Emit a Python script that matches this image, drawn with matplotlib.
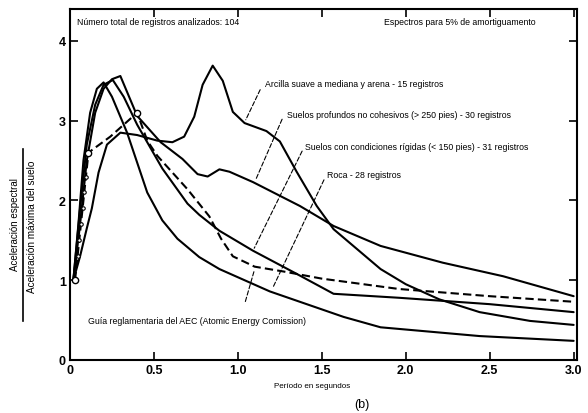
import numpy as np
import matplotlib.pyplot as plt

plt.rcParams['font.family'] = ['Liberation Sans', 'DejaVu Sans']

# Periodo (s) y aceleracion espectral normalizada
t_roca = [0.02, 0.05, 0.08, 0.12, 0.16, 0.20, 0.25, 0.34, 0.46, 0.55, 0.64, 0.77, 0.89, 1.19, 1.63, 1.85, 2.44, 3.0]
a_roca = [1.0, 1.7, 2.5, 3.1, 3.4, 3.48, 3.3, 2.85, 2.1, 1.75, 1.52, 1.29, 1.14, 0.86, 0.54, 0.41, 0.30, 0.24]

t_rigidos = [0.02, 0.06, 0.10, 0.15, 0.20, 0.255, 0.32, 0.40, 0.55, 0.70, 0.77, 0.89, 1.09, 1.35, 1.57, 1.96, 2.5, 3.0]
a_rigidos = [1.0, 1.9, 2.7, 3.2, 3.45, 3.51, 3.3, 2.95, 2.4, 1.96, 1.82, 1.62, 1.37, 1.08, 0.83, 0.78, 0.70, 0.60]

t_profundos = [0.02, 0.06, 0.10, 0.15, 0.20, 0.25, 0.30, 0.40, 0.54, 0.67, 0.76, 0.82, 0.89, 0.95, 1.09, 1.37,
               1.57, 1.85, 2.22, 2.58, 3.0]
a_profundos = [1.0, 1.7, 2.5, 3.1, 3.4, 3.52, 3.56, 3.06, 2.73, 2.52, 2.33, 2.30, 2.39, 2.36, 2.23, 1.93,
               1.68, 1.43, 1.22, 1.05, 0.80]

t_arcilla = [0.02, 0.06, 0.10, 0.13, 0.17, 0.22, 0.30, 0.40, 0.52, 0.61, 0.68, 0.74, 0.79, 0.85, 0.91, 0.97, 1.04,
             1.17, 1.25, 1.35, 1.47, 1.57, 1.71, 1.85, 2.0, 2.2, 2.44, 2.74, 3.0]
a_arcilla = [1.0, 1.3, 1.65, 1.9, 2.35, 2.7, 2.85, 2.82, 2.75, 2.73, 2.8, 3.05, 3.45, 3.69, 3.5, 3.11, 2.97,
             2.87, 2.74, 2.36, 1.93, 1.64, 1.39, 1.14, 0.95, 0.76, 0.60, 0.49, 0.44]

t_aec = [0.03, 0.11, 0.24, 0.40, 0.46, 0.52, 0.70, 0.83, 0.90, 0.97, 1.10, 1.27, 1.50, 1.96, 2.5, 3.0]
a_aec = [1.0, 2.6, 2.8, 3.1, 2.75, 2.56, 2.14, 1.80, 1.52, 1.30, 1.17, 1.11, 1.02, 0.89, 0.80, 0.73]
t_aec_pts = [0.03, 0.11, 0.40]
a_aec_pts = [1.0, 2.6, 3.1]
t_aec_small = [0.045, 0.055, 0.065, 0.075, 0.085, 0.095]
a_aec_small = [1.3, 1.5, 1.7, 1.9, 2.1, 2.3]

xticks = [0, 0.5, 1.0, 1.5, 2.0, 2.5, 3.0]
xticklabels = ['0', '0.5', '1.0', '1.5', '2.0', '2.5', '3.0']
yticks = [0, 1, 2, 3, 4]

fig = plt.figure(figsize=(5.88, 4.14), dpi=100)
ax = fig.add_axes([70 / 588, 53 / 414, 507 / 588, 351 / 414])

lw = 1.5
for t, a in [(t_roca, a_roca), (t_rigidos, a_rigidos), (t_profundos, a_profundos), (t_arcilla, a_arcilla)]:
    ax.plot(t, a, color='black', lw=lw, solid_joinstyle='round', solid_capstyle='round')
ax.plot(t_aec, a_aec, color='black', lw=lw, ls=(0, (4, 2)))
ax.plot(t_aec_small, a_aec_small, 'o', ms=2.5, mfc='white', mec='black', mew=0.8)
ax.plot(t_aec_pts, a_aec_pts, 'o', ms=4.5, mfc='white', mec='black', mew=1.0)

ax.set_xlim(0, 3.02)
ax.set_ylim(0, 4.4)
ax.set_xticks(xticks)
ax.set_xticklabels(xticklabels, fontsize=9, fontweight='bold')
ax.set_yticks(yticks)
ax.set_yticklabels([str(v) for v in yticks], fontsize=9, fontweight='bold')
ax.tick_params(direction='in', length=6, width=1.2, top=True, right=True, pad=3)
for s in ax.spines.values():
    s.set_linewidth(1.5)

fs = 6.3
ax.text(0.04, 4.3, 'Número total de registros analizados: 104', fontsize=fs, va='top')
ax.text(1.87, 4.3, 'Espectros para 5% de amortiguamento', fontsize=fs, va='top')

leader = dict(arrowstyle='-', color='black', lw=0.8, ls=(0, (4, 2)))
labels = [
    ('Arcilla suave a mediana y arena - 15 registros', (1.16, 3.47), (1.14, 3.42), (1.04, 2.98)),
    ('Suelos profundos no cohesivos (> 250 pies) - 30 registros', (1.29, 3.08), (1.27, 3.05), (1.10, 2.23)),
    ('Suelos con condiciones rígidas (< 150 pies) - 31 registros', (1.40, 2.68), (1.39, 2.65), (1.09, 1.37)),
    ('Roca - 28 registros', (1.53, 2.33), (1.52, 2.29), (1.20, 0.87)),
]
for txt, pos, start, end in labels:
    ax.text(pos[0], pos[1], txt, fontsize=fs, va='center')
    ax.annotate('', xy=end, xytext=start, arrowprops=leader)

ax.text(0.11, 0.49, 'Guía reglamentaria del AEC (Atomic Energy Comission)', fontsize=fs, va='center')
ax.annotate('', xy=(1.10, 1.14), xytext=(1.04, 0.70), arrowprops=leader)

fig.text(312 / 588, 1 - 387 / 414, 'Período en segundos', fontsize=5.8, ha='center', va='center')
fig.text(362 / 588, 1 - 405 / 414, '(b)', fontsize=9, ha='center', va='center')

# etiqueta del eje y como fraccion
fig.text(15 / 588, 1 - 225 / 414, 'Aceleración espectral', rotation=90, fontsize=7, ha='center', va='center')
fig.text(32 / 588, 1 - 227 / 414, 'Aceleración máxima del suelo', rotation=90, fontsize=7.2, ha='center', va='center')
fig.add_artist(plt.Line2D([23 / 588, 23 / 588], [1 - 322 / 414, 1 - 150 / 414], color='black', lw=1.2))

fig.savefig('out.png', dpi=100)
